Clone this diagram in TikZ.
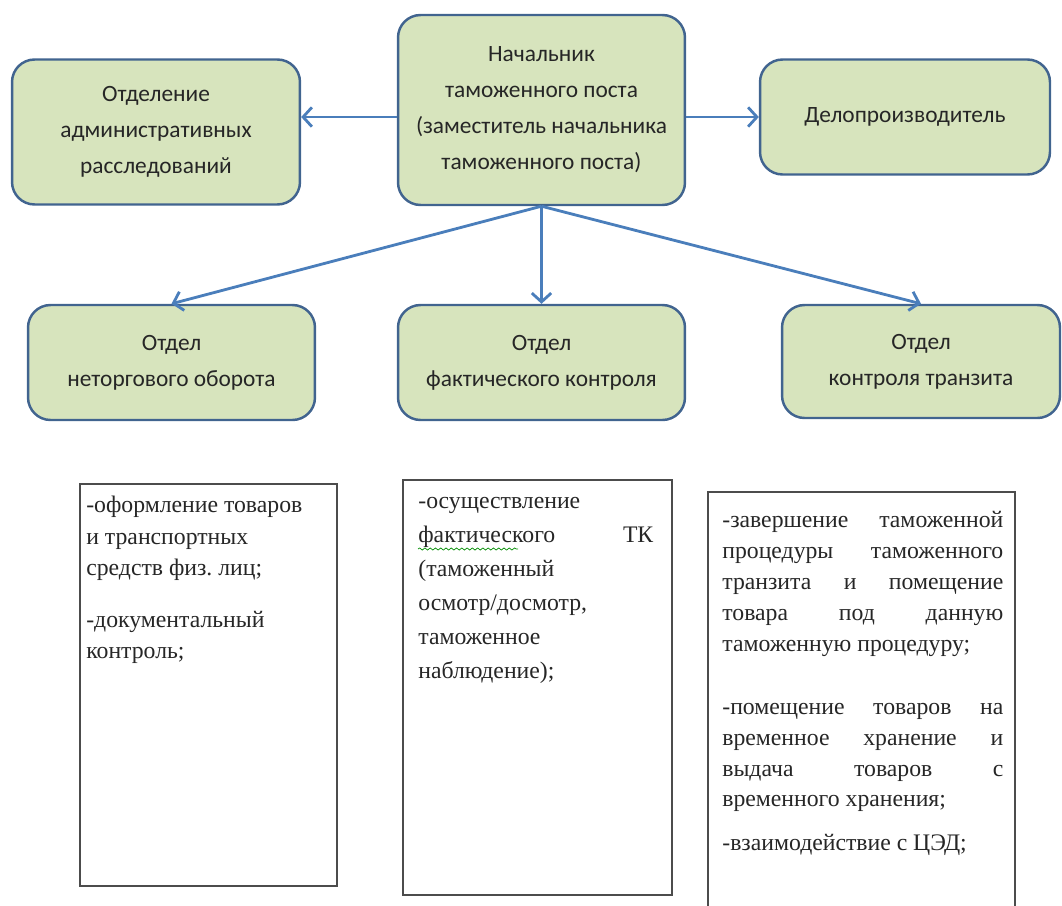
\documentclass[tikz,border=0pt]{standalone}
\usepackage{fontspec}
\setmainfont{Liberation Serif}
\newfontfamily\boxfont{Carlito}
\usetikzlibrary{arrows.meta}
\usetikzlibrary{decorations.pathmorphing}

\definecolor{boxgreen}{HTML}{D7E4BD}
\definecolor{boxedge}{HTML}{41648F}
\definecolor{arrowblue}{HTML}{4A7EBB}

\begin{document}
\begin{tikzpicture}[x=0.02cm,y=-0.02cm,
    dept/.style={draw=boxedge, line width=1.4pt, fill=boxgreen, rounded corners=0.45cm,
        align=center, text=black!85, font=\boxfont\fontsize{13.3}{20.5}\selectfont},
    tasks/.style={anchor=north west, inner sep=0pt, align=left, text=black!85,
        font=\fontsize{13.5}{17.9}\selectfont},
    taskframe/.style={draw=black!70, line width=1.1pt},
    arr/.style={draw=arrowblue, line width=1.6pt, -{Straight Barb[length=5pt,width=11pt]}}]
    \useasboundingbox (0,0) rectangle (1062,906);

    % top row
    \node[dept, minimum width=5.74cm, minimum height=3.8cm] (chief) at (541.5,110)
        {Начальник\\таможенного поста\\(заместитель начальника\\таможенного поста)};
    \node[dept, minimum width=5.76cm, minimum height=2.9cm] (adminDept) at (156,132)
        {Отделение\\административных\\расследований};
    \node[dept, minimum width=5.8cm, minimum height=2.3cm] (clerk) at (905,117)
        {Делопроизводитель};

    % departments
    \node[dept, minimum width=5.74cm, minimum height=2.3cm] (nonTradeDept) at (171.5,362.5)
        {Отдел\\неторгового оборота};
    \node[dept, minimum width=5.74cm, minimum height=2.3cm] (inspectDept) at (541.5,362.5)
        {Отдел\\фактического контроля};
    \node[dept, minimum width=5.56cm, minimum height=2.26cm] (transitDept) at (921,361.5)
        {Отдел\\контроля транзита};

    % arrows
    \draw[arr] (chief.west |- clerk.west) -- (adminDept.east |- clerk.west);
    \draw[arr] (chief.east |- clerk.west) -- (clerk.west);
    \foreach \d in {nonTradeDept,inspectDept,transitDept}
        \draw[arr] (chief.south) -- (\d.north);

    % task lists
    \draw[taskframe] (80,484) rectangle (337,886);
    \node[tasks] (nonTradeTasks) at (86,496)
        {-оформление товаров\\и транспортных\\средств физ.\ лиц;\\[0.4cm]
         -документальный\\контроль;};

    \draw[taskframe] (403,480) rectangle (672,895);
    \node[tasks, font=\fontsize{13.5}{19.3}\selectfont] (inspectTasks) at (418,497)
        {-осуществление\\\makebox[4.7cm][l]{фактического\hfill ТК}\\(таможенный\\
         осмотр/досмотр,\\таможенное\\наблюдение);};
    \draw[green!55!black, line width=0.4pt, decorate,
        decoration={snake, amplitude=0.6pt, segment length=3pt}] (418,549) -- (518,549);

    \draw[taskframe] (708,906) -- (708,492) -- (1015,492) -- (1015,906);
    \node[tasks, font=\fontsize{13.5}{17.6}\selectfont] (transitTasks) at (722,511)
        {\makebox[5.62cm][s]{-завершение таможенной}\\
         \makebox[5.62cm][s]{процедуры таможенного}\\
         \makebox[5.62cm][s]{транзита и помещение}\\
         \makebox[5.62cm][s]{товара под данную}\\
         таможенную процедуру;\\[0.64cm]
         \makebox[5.62cm][s]{-помещение товаров на}\\
         \makebox[5.62cm][s]{временное хранение и}\\
         \makebox[5.62cm][s]{выдача товаров с}\\
         временного хранения;\\[0.26cm]
         -взаимодействие с ЦЭД;};

\end{tikzpicture}
\end{document}
